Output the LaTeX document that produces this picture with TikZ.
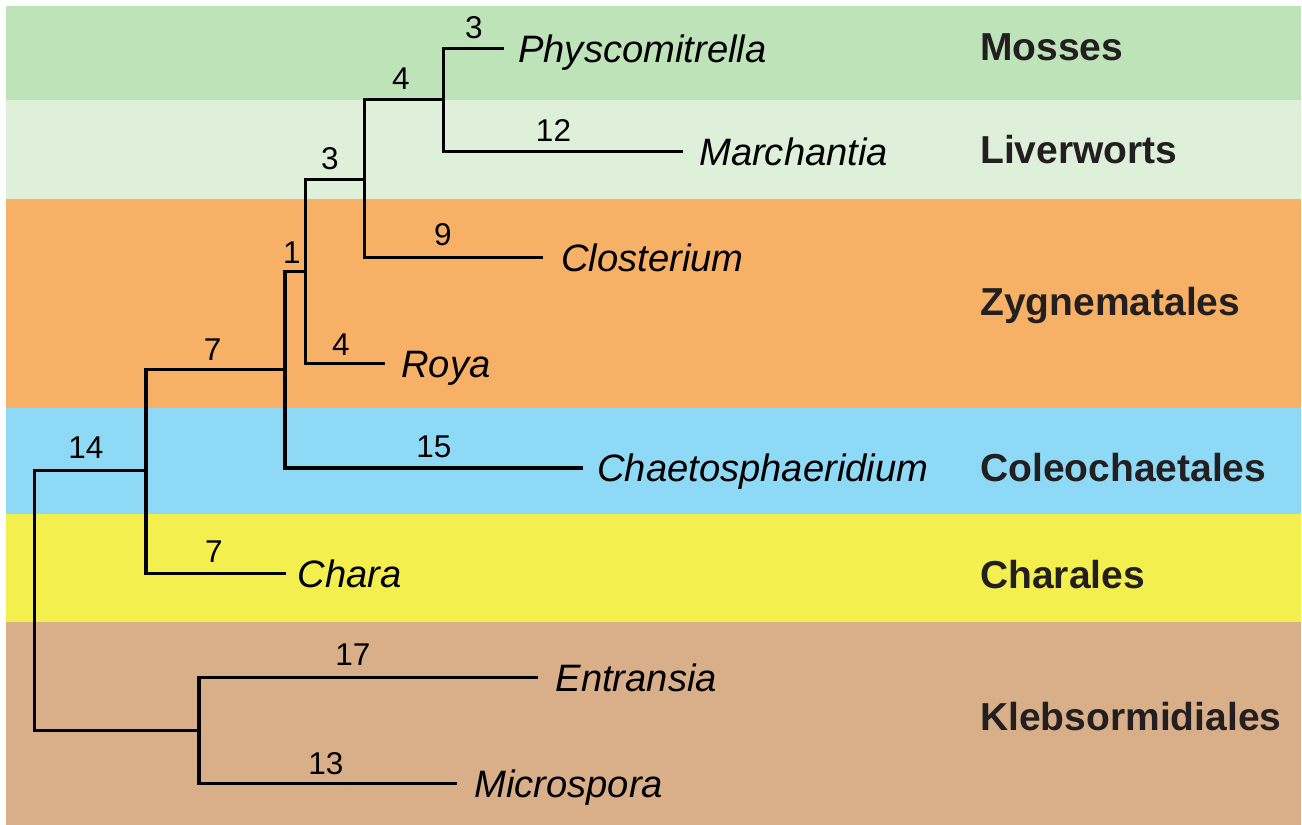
\documentclass[tikz,border=0pt]{standalone}
\usepackage{fontspec}
\setmainfont{Liberation Sans}
\definecolor{cMoss}{HTML}{BFE3B8}
\definecolor{cLiver}{HTML}{DFF0DA}
\definecolor{cZyg}{HTML}{F7B167}
\definecolor{cCol}{HTML}{8ED9F5}
\definecolor{cChar}{HTML}{F3EF4E}
\definecolor{cKleb}{HTML}{D8AF89}
\definecolor{cGroup}{HTML}{231F20}
\tikzset{
  branch/.style={line width=3.3pt, line cap=butt, line join=miter, black},
  species/.style={anchor=base west, inner sep=0pt, font=\fontsize{38.2}{41}\selectfont\itshape},
  num/.style={anchor=center, inner sep=0pt, font=\fontsize{31.5}{34}\selectfont},
  group/.style={anchor=base west, inner sep=0pt, text=cGroup, font=\fontsize{39}{42}\selectfont\bfseries}
}
\begin{document}
\begin{tikzpicture}[x=1pt,y=-1pt]
\useasboundingbox (0,0) rectangle (1302,825);
% bands
\fill[cMoss]  (6,6)   rectangle (1301,100);
\fill[cLiver] (6,100) rectangle (1301,199);
\fill[cZyg]   (6,199) rectangle (1301,408);
\fill[cCol]   (6,408) rectangle (1301,514);
\fill[cChar]  (6,514) rectangle (1301,622);
\fill[cKleb]  (6,622) rectangle (1301,825);
% group labels
\node[group] (gMoss)  at (980,60)    {Mosses};
\node[group] (gLiver) at (980,163.3) {Liverworts};
\node[group] (gZyg)   at (980,315)   {Zygnematales};
\node[group] (gCol)   at (980,481)   {Coleochaetales};
\node[group] (gChar)  at (980,588.3) {Charales};
\node[group] (gKleb)  at (980,730)   {Klebsormidiales};
% internal node coordinates (vertical extents)
\coordinate (Rt) at (34.4,470.7);  \coordinate (Rb) at (34.4,730.7);
\coordinate (At) at (146,369.3);   \coordinate (Ab) at (146,573.3);
\coordinate (Am) at (146,470.7);
\coordinate (Bt) at (285,271.7);   \coordinate (Bb) at (285,468);
\coordinate (Bm) at (285,369.3);
\coordinate (Ct) at (305.6,179.3); \coordinate (Cb) at (305.6,363.3);
\coordinate (Cm) at (305.6,271.7);
\coordinate (Dt) at (364.8,99.3);  \coordinate (Db) at (364.8,257.3);
\coordinate (Dm) at (364.8,179.3);
\coordinate (Et) at (443.6,48.3);  \coordinate (Eb) at (443.6,151.7);
\coordinate (Em) at (443.6,99.3);
\coordinate (Kt) at (199,677.7);   \coordinate (Kb) at (199,783.3);
\coordinate (Km) at (199,730.7);
% leaf ends
\coordinate (lPhys) at (503.7,48.3);
\coordinate (lMarc) at (683.3,151.7);
\coordinate (lClos) at (543,257.3);
\coordinate (lRoya) at (384.7,363.3);
\coordinate (lChae) at (582.5,468);
\coordinate (lChar) at (286,573.3);
\coordinate (lEntr) at (537.7,677.7);
\coordinate (lMicr) at (457.3,783.3);
% species labels
\node[species] (sPhys) at (518,62)    {Physcomitrella};
\node[species] (sMarc) at (699,165.4)   {Marchantia};
\node[species] (sClos) at (561,271) {Closterium};
\node[species] (sRoya) at (401,377)   {Roya};
\node[species] (sChae) at (597,481.7)   {Chaetosphaeridium};
\node[species] (sChar) at (297.5,587) {Chara};
\node[species] (sEntr) at (555.4,691.4) {Entransia};
\node[species] (sMicr) at (474,797)   {Microspora};
% tree
\draw[branch] (Am) -- (Rt) -- (Rb) -- (Km);
\draw[branch] (Bm) -- (At) -- (Ab) -- (lChar);
\draw[branch] (Cm) -- (Bt) -- (Bb) -- (lChae);
\draw[branch] (Dm) -- (Ct) -- (Cb) -- (lRoya);
\draw[branch] (Em) -- (Dt) -- (Db) -- (lClos);
\draw[branch] (lPhys) -- (Et) -- (Eb) -- (lMarc);
\draw[branch] (lEntr) -- (Kt) -- (Kb) -- (lMicr);
% branch numbers
\node[num] (n1)  at (474,28)      {3};
\node[num] (n2)  at (401,79)      {4};
\node[num] (n3)  at (553.5,130)   {12};
\node[num] (n4)  at (330,159)     {3};
\node[num] (n5)  at (443,235)     {9};
\node[num] (n6)  at (292,253)     {1};
\node[num] (n7)  at (341,345)     {4};
\node[num] (n8)  at (212.7,349.3) {7};
\node[num] (n9)  at (434,446.7)   {15};
\node[num] (n10) at (85.8,447.7)  {14};
\node[num] (n11) at (214,551.7)   {7};
\node[num] (n12) at (353,655)     {17};
\node[num] (n13) at (326,763.3)   {13};
\end{tikzpicture}
\end{document}
